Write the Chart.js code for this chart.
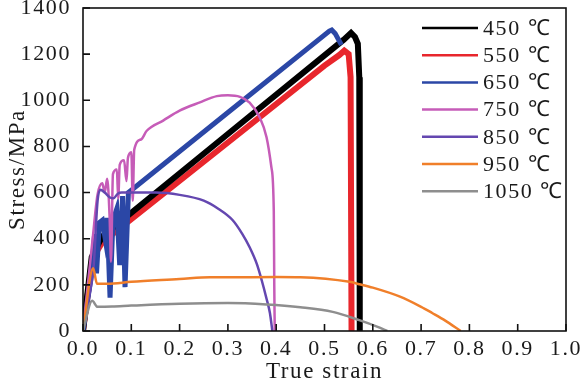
<!DOCTYPE html>
<html>
<head>
<meta charset="utf-8">
<script src="https://cdn.jsdelivr.net/npm/chart.js@4.4.0/dist/chart.umd.min.js"></script>
<style>
  html, body { margin: 0; padding: 0; background: #fff; }
</style>
</head>
<body>
<canvas id="chart" width="583" height="382"></canvas>
<script>
// tick labels
const xTicks = [0, 0.1, 0.2, 0.3, 0.4, 0.5, 0.6, 0.7, 0.8, 0.9, 1.0];
const yTicks = [0, 200, 400, 600, 800, 1000, 1200, 1400];

const labels = ["450 ℃", "550 ℃", "650 ℃", "750 ℃", "850 ℃", "950 ℃", "1050 ℃"];
const colors = ["#000000", "#e8262c", "#2b47a6", "#c65cb8", "#6447b0", "#f07f2a", "#8e8e8e"];

// series (strain, stress in MPa)
const strain450 = [0, 0.018, 0.03, 0.04, 0.3, 0.54, 0.555, 0.563, 0.569, 0.572, 0.573];
const stress450 = [0, 320, 370, 410, 854, 1263, 1292, 1275, 1245, 1100, 0];

const strain550 = [0, 0.018, 0.03, 0.04, 0.3, 0.5, 0.53, 0.541, 0.55, 0.554, 0.556];
const stress550 = [0, 290, 350, 385, 817, 1150, 1195, 1215, 1200, 1100, 0];

const strain650 = [0, 0.018, 0.024, 0.028, 0.034, 0.04, 0.046, 0.05, 0.056, 0.062, 0.07, 0.076, 0.082, 0.087, 0.094, 0.1, 0.3, 0.51, 0.515, 0.522, 0.535];
const stress650 = [0, 250, 420, 250, 470, 480, 400, 490, 145, 480, 530, 285, 585, 190, 600, 610, 947, 1300, 1305, 1290, 1240];

const strain750 = [0, 0.02, 0.03, 0.04, 0.045, 0.05, 0.055, 0.058, 0.062, 0.07, 0.073, 0.076, 0.085, 0.09, 0.093, 0.1, 0.103, 0.106, 0.12, 0.132, 0.166, 0.2, 0.242, 0.277, 0.3, 0.325, 0.345, 0.366, 0.38, 0.39, 0.395, 0.396, 0.397];
const stress750 = [0, 400, 590, 640, 600, 660, 500, 300, 680, 700, 575, 720, 740, 650, 750, 775, 565, 785, 830, 868, 912, 955, 991, 1018, 1022, 1015, 990, 925, 840, 710, 520, 200, 0];

const strain850 = [0, 0.01, 0.022, 0.03, 0.036, 0.045, 0.055, 0.063, 0.072, 0.08, 0.15, 0.2, 0.25, 0.28, 0.31, 0.33, 0.345, 0.36, 0.37, 0.38, 0.387, 0.392];
const stress850 = [0, 120, 280, 560, 612, 600, 580, 575, 595, 600, 600, 590, 565, 530, 480, 420, 363, 290, 220, 140, 78, 0];

const strain950 = [0, 0.021, 0.029, 0.05, 0.1, 0.2, 0.263, 0.3, 0.4, 0.45, 0.552, 0.572, 0.6, 0.655, 0.7, 0.723, 0.75, 0.782];
const stress950 = [0, 272, 205, 205, 213, 225, 233, 233, 234, 233, 213, 203, 188, 150, 105, 78, 45, 0];

const strain1050 = [0, 0.019, 0.03, 0.06, 0.1, 0.2, 0.3, 0.38, 0.45, 0.517, 0.572, 0.61, 0.63];
const stress1050 = [0, 131, 105, 106, 110, 118, 121, 115, 103, 83, 47, 18, 0];

const strains = [strain450, strain550, strain650, strain750, strain850, strain950, strain1050];
const stresses = [stress450, stress550, stress650, stress750, stress850, stress950, stress1050];
const widths = [6, 6, 5, 2.5, 2.5, 2.5, 2.5];
const drawOrder = [6, 7, 5, 4, 3, 2, 1];

const FONT = "'Liberation Serif', 'Times New Roman', serif";
Chart.defaults.font.family = FONT;
Chart.defaults.color = "#1a1a1a";

const datasets = labels.map((label, i) => ({
    label,
    data: strains[i].map((x, j) => ({ x, y: stresses[i][j] })),
    borderColor: colors[i],
    borderWidth: widths[i],
    pointRadius: 0,
    tension: 0,
    cubicInterpolationMode: i > 2 ? "monotone" : "default",
    fill: false,
    order: drawOrder[i],
}));

// the original lettering is set wide
const spacing = {
    id: "spacing",
    beforeDraw(chart) { chart.ctx.letterSpacing = "1.6px"; },
};

const frame = {
    id: "frame",
    afterDatasetsDraw(chart) {
        const { ctx, chartArea: a, scales: { x, y } } = chart;
        ctx.save();
        ctx.strokeStyle = "#111";
        ctx.lineWidth = 1.6;
        ctx.strokeRect(a.left, a.top, a.right - a.left, a.bottom - a.top);
        ctx.beginPath();
        xTicks.forEach(v => {
            const px = x.getPixelForValue(v);
            ctx.moveTo(px, a.bottom);
            ctx.lineTo(px, a.bottom - 7);
        });
        yTicks.forEach(v => {
            const py = y.getPixelForValue(v);
            ctx.moveTo(a.left, py);
            ctx.lineTo(a.left + 7, py);
        });
        ctx.stroke();

        // legend inside the plot, top right
        ctx.font = `22px ${FONT}`;
        ctx.textBaseline = "middle";
        ctx.textAlign = "left";
        chart.data.datasets.forEach((ds, i) => {
            const ly = a.top + 20 + i * 27.2;
            ctx.strokeStyle = ds.borderColor;
            ctx.lineWidth = 2.5;
            ctx.beginPath();
            ctx.moveTo(a.right - 144, ly);
            ctx.lineTo(a.right - 88, ly);
            ctx.stroke();
            ctx.fillStyle = "#1a1a1a";
            ctx.fillText(ds.label, a.right - 83, ly + 1);
        });
        ctx.restore();
    }
};

new Chart(document.getElementById("chart"), {
    type: "line",
    data: { datasets },
    options: {
        responsive: false,
        animation: false,
        layout: { padding: { top: 8, right: 17, left: 0, bottom: 0 } },
        plugins: { legend: { display: false }, tooltip: { enabled: false } },
        scales: {
            x: {
                type: "linear",
                min: 0,
                max: 1,
                grid: { display: false },
                border: { display: false },
                afterBuildTicks: s => { s.ticks = xTicks.map(value => ({ value })); },
                afterFit: s => { s.height = 51; s.paddingLeft = 0; s.paddingRight = 0; },
                ticks: {
                    font: { size: 22 },
                    padding: -3,
                    maxRotation: 0,
                    callback: v => v.toFixed(1),
                },
                title: {
                    display: true,
                    text: "True strain",
                    font: { size: 23 },
                    padding: { top: 0, bottom: -4 },
                },
            },
            y: {
                min: 0,
                max: 1400,
                grid: { display: false },
                border: { display: false },
                afterBuildTicks: s => { s.ticks = yTicks.map(value => ({ value })); },
                afterFit: s => { s.width = 83; s.paddingTop = 0; s.paddingBottom = 0; },
                ticks: {
                    font: { size: 22 },
                    padding: 4,
                    callback: v => String(v),
                },
                title: {
                    display: true,
                    text: "Stress/MPa",
                    font: { size: 23 },
                    padding: { top: 4, bottom: 0 },
                },
            },
        },
    },
    plugins: [spacing, frame],
});
</script>
</body>
</html>
